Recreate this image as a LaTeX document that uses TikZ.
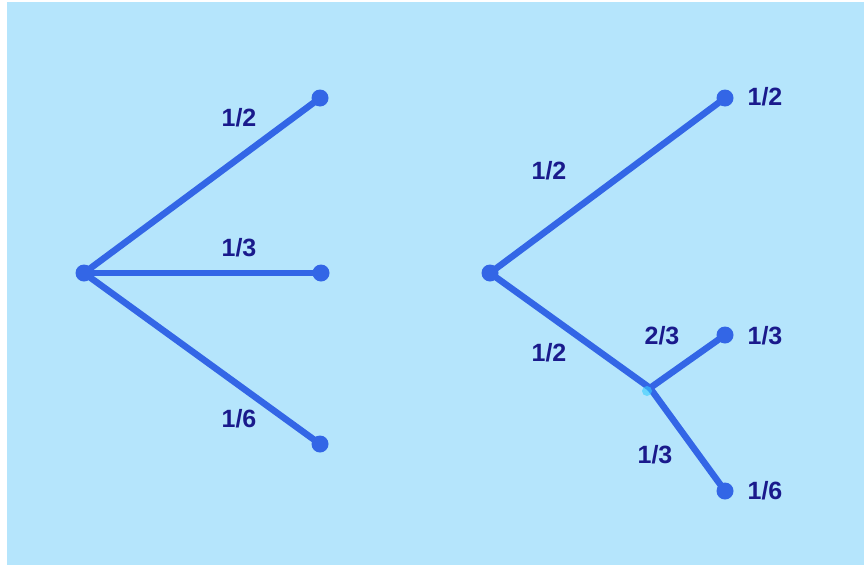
\documentclass[tikz,border=0pt]{standalone}
\usepackage{fontspec}
\setmainfont{Liberation Sans}
\definecolor{bgblue}{HTML}{B5E5FC}
\definecolor{lineblue}{HTML}{3366E6}
\definecolor{textnavy}{HTML}{1A1A8C}
\definecolor{junccyan}{HTML}{33CCFF}
\begin{document}
\begin{tikzpicture}[x=1pt,y=-1pt,
  edge/.style={draw=lineblue,line width=6.5pt,line cap=round},
  dot/.style={circle,fill=lineblue,inner sep=0pt,minimum size=17pt},
  junc/.style={circle,fill=junccyan,inner sep=0pt,minimum size=10pt},
  lbl/.style={text=textnavy,font=\fontsize{25}{25}\selectfont\bfseries,inner sep=0pt}]
\useasboundingbox (0,0) rectangle (864,565);
\fill[white] (0,0) rectangle (864,565);
\fill[bgblue] (7,2) rectangle (864,565);
% left tree
\coordinate (L0) at (84,273);
\coordinate (L1) at (320,98);
\coordinate (L2) at (321,273);
\coordinate (L3) at (320,444);
\draw[edge] (L0) -- (L1);
\draw[edge] (L0) -- (L2);
\draw[edge] (L0) -- (L3);
\node[dot] (l0) at (L0) {};
\node[dot] (l1) at (L1) {};
\node[dot] (l2) at (L2) {};
\node[dot] (l3) at (L3) {};
\node[lbl] (la) at (239,118) {1/2};
\node[lbl] (lb) at (239,248) {1/3};
\node[lbl] (lc) at (239,419) {1/6};
% right tree
\coordinate (R0) at (490,273);
\coordinate (R1) at (725,98);
\coordinate (RM) at (650,388);
\coordinate (R2) at (725,335);
\coordinate (R3) at (725,491);
\draw[edge] (R0) -- (R1);
\draw[edge] (R0) -- (RM);
\draw[edge] (RM) -- (R2);
\draw[edge] (RM) -- (R3);
\node[dot] (r0) at (R0) {};
\node[dot] (r1) at (R1) {};
\node[dot] (r2) at (R2) {};
\node[dot] (r3) at (R3) {};
\node[junc,opacity=0.6] (rm) at (647,391) {};
\node[lbl] (ra) at (549,171) {1/2};
\node[lbl] (rb) at (549,353) {1/2};
\node[lbl] (rc) at (662,336) {2/3};
\node[lbl] (rd) at (655,455) {1/3};
\node[lbl] (re) at (765,97) {1/2};
\node[lbl] (rf) at (765,336) {1/3};
\node[lbl] (rg) at (765,491) {1/6};
\end{tikzpicture}
\end{document}
